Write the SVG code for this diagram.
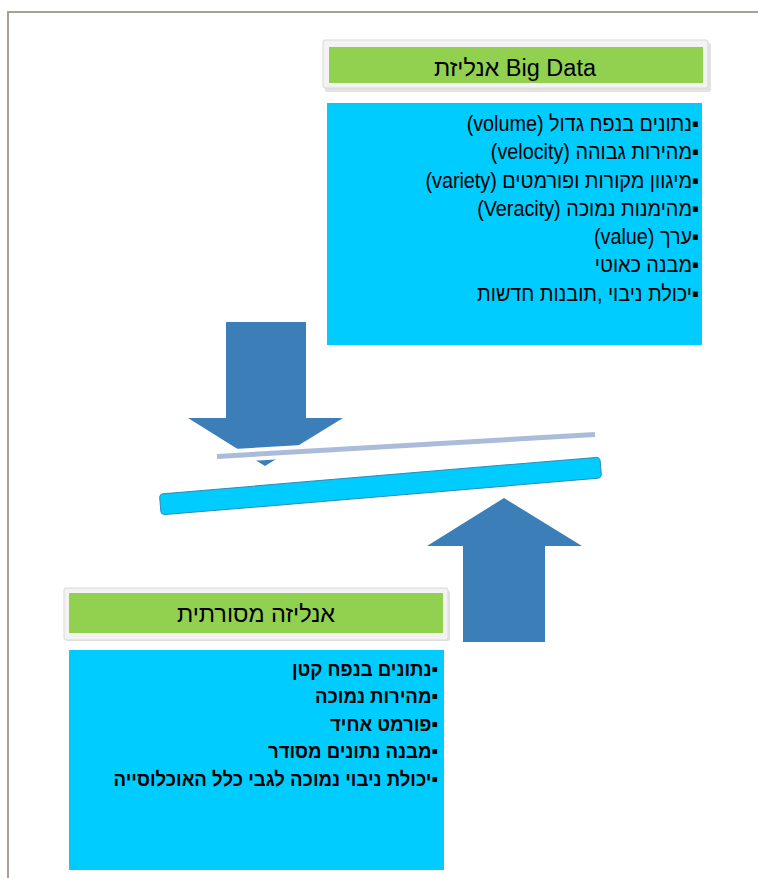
<svg xmlns="http://www.w3.org/2000/svg" width="758" height="878" viewBox="0 0 758 878">
<style>
.frame{fill:#f3f3f3;stroke:#d9d9d9;stroke-width:1}
.shadow{fill:#cfcfcf;opacity:0.6}
.green{fill:#92D050}
.cyan{fill:#00CCFF}
.arrow{fill:#3C7FB8}
.title{font-family:"Liberation Sans",Arial,sans-serif;font-size:23.5px;fill:#000;text-anchor:middle}
.item{font-family:"Liberation Sans",Arial,sans-serif;font-size:22px;fill:#000;direction:rtl;unicode-bidi:embed;text-anchor:start}
.itemb{font-family:"Liberation Sans",Arial,sans-serif;font-size:20px;font-weight:bold;fill:#000;direction:rtl;unicode-bidi:embed;text-anchor:start}
</style>
<rect width="758" height="878" fill="#fff"/>
<g id="page-border" fill="none" stroke="#a8a097" stroke-width="2">
<polyline points="8,878 8,12 758,12"/>
</g>
<g id="title-bigdata">
<rect class="shadow" x="325" y="43" width="386" height="49" rx="2"/>
<rect class="frame" x="323" y="40" width="385" height="48" rx="2"/>
<rect class="green" x="329" y="47" width="374" height="36"/>
<text class="title" x="515" y="76">אנליזת Big Data</text>
</g>
<g id="list-bigdata">
<rect class="cyan" x="327" y="103" width="375" height="242"/>
<g transform="translate(699,0) scale(0.9,1)">
<text class="item" x="0" y="131">▪נתונים בנפח גדול (volume)</text>
<text class="item" x="0" y="159.3">▪מהירות גבוהה (velocity)</text>
<text class="item" x="0" y="187.6">▪מיגוון מקורות ופורמטים (variety)</text>
<text class="item" x="0" y="215.9">▪מהימנות נמוכה (Veracity)</text>
<text class="item" x="0" y="244.2">▪ערך (value)</text>
<text class="item" x="0" y="272.5">▪מבנה כאוטי</text>
<text class="item" x="0" y="300.8">▪יכולת ניבוי ,תובנות חדשות</text>
</g>
</g>
<g id="title-traditional">
<rect class="shadow" x="66" y="591" width="384" height="50" rx="2"/>
<rect class="frame" x="64" y="588" width="384" height="52" rx="2"/>
<rect class="green" x="69" y="593" width="374" height="40"/>
<text class="title" x="256" y="622">אנליזה מסורתית</text>
</g>
<g id="list-traditional">
<rect class="cyan" x="69" y="650" width="375" height="220"/>
<g transform="translate(438,0) scale(0.93,1)">
<text class="itemb" x="0" y="676">▪נתונים בנפח קטן</text>
<text class="itemb" x="0" y="703.5">▪מהירות נמוכה</text>
<text class="itemb" x="0" y="731">▪פורמט אחיד</text>
<text class="itemb" x="0" y="758.5">▪מבנה נתונים מסודר</text>
<text class="itemb" x="0" y="786">▪יכולת ניבוי נמוכה לגבי כלל האוכלוסייה</text>
</g>
</g>
<g id="connectors">
<g id="arrow-down">
<polygon class="arrow" points="226,322 306,322 306,418 343,418 265,466 188,418 226,418"/>
</g>
<g id="balance">
<line x1="217" y1="456.5" x2="595" y2="434.5" stroke="#fff" stroke-width="13"/>
<line x1="217" y1="456.5" x2="595" y2="434.5" stroke="#AABCDA" stroke-width="5"/>
<rect x="-221" y="-10.5" width="442" height="21" rx="4" transform="translate(380.5,486) rotate(-4.8)" fill="#00CCFF" stroke="#2E8BB5" stroke-width="1"/>
</g>
<g id="arrow-up">
<polygon class="arrow" points="504,498 582,546 545,546 545,642 463,642 463,546 427,546"/>
</g>
</g>
</svg>
